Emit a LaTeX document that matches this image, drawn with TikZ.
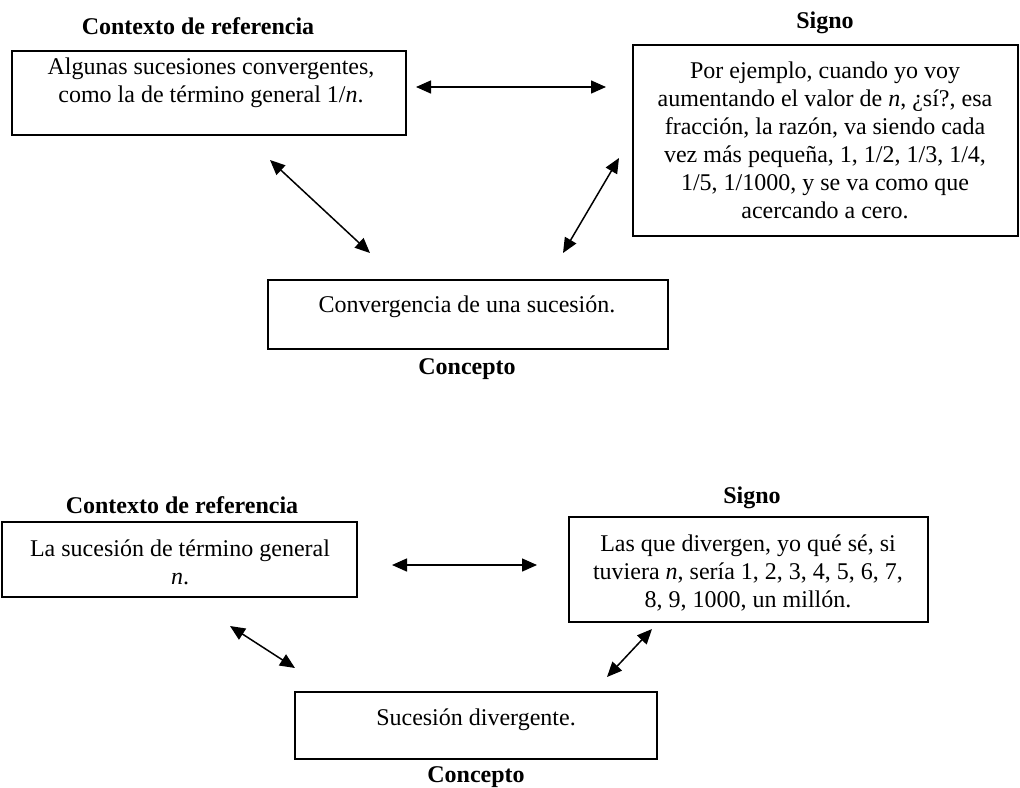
\documentclass[tikz,border=0pt]{standalone}
\usepackage{fontspec}
\setmainfont{Liberation Serif}
\usetikzlibrary{arrows.meta}

\begin{document}
\begin{tikzpicture}[x=0.5pt,y=-0.5pt,
  font=\fontsize{12}{14}\selectfont,
  box/.style={draw, line width=0.75pt, inner sep=0pt},
  txt/.style={align=center, inner sep=0pt},
  title/.style={font=\fontsize{12}{14}\selectfont\bfseries, inner sep=0pt},
  link/.style={line width=0.75pt, {Triangle[length=7.5pt,width=6.5pt]}-{Triangle[length=7.5pt,width=6.5pt]}}]
\useasboundingbox (0,0) rectangle (1020,787);
% convergencia
\node[title] (ctxAtitle) at (198,26) {Contexto de referencia};
\node[box, minimum width=197pt, minimum height=42pt] (ctxA) at (209,93) {};
\node[txt] (ctxAtext) at (211,83) {Algunas sucesiones convergentes,\\como la de término general 1/\textit{n}.};
\node[title] (sigAtitle) at (825,23) {Signo};
\node[box, minimum width=192.5pt, minimum height=95.5pt] (sigA) at (825.5,140.5) {};
\node[txt] (sigAtext) at (825,140) {Por ejemplo, cuando yo voy\\aumentando el valor de \textit{n}, ¿sí?, esa\\fracción, la razón, va siendo cada\\vez más pequeña, 1, 1/2, 1/3, 1/4,\\1/5, 1/1000, y se va como que\\acercando a cero.};
\node[box, minimum width=200pt, minimum height=34.5pt] (conA) at (468,314.5) {};
\node[txt] (conAtext) at (467,307) {Convergencia de una sucesión.};
\node[title] (conAtitle) at (467,369) {Concepto};
\coordinate (a1) at (416,87);
\coordinate (a2) at (606,87);
\coordinate (a3) at (270,160);
\coordinate (a4) at (370,253);
\coordinate (a5) at (619,158);
\coordinate (a6) at (563,253);
\draw[link] (a1) -- (a2);
\draw[link] (a3) -- (a4);
\draw[link] (a5) -- (a6);
% divergencia
\node[title] (ctxBtitle) at (182,505) {Contexto de referencia};
\node[box, minimum width=177.5pt, minimum height=37.5pt] (ctxB) at (179.5,559.5) {};
\node[txt] (ctxBtext) at (180,562) {La sucesión de término general\\\textit{n}.};
\node[title] (sigBtitle) at (752,498) {Signo};
\node[box, minimum width=179.5pt, minimum height=52.5pt] (sigB) at (748.5,569.5) {};
\node[txt] (sigBtext) at (748,573) {Las que divergen, yo qué sé, si\\tuviera \textit{n}, sería 1, 2, 3, 4, 5, 6, 7,\\8, 9, 1000, un millón.};
\node[box, minimum width=181pt, minimum height=33.5pt] (conB) at (476,725.5) {};
\node[txt] (conBtext) at (476,720) {Sucesión divergente.};
\node[title] (conBtitle) at (476,777) {Concepto};
\coordinate (b1) at (392,565);
\coordinate (b2) at (537,565);
\coordinate (b3) at (230,626);
\coordinate (b4) at (295,668);
\coordinate (b5) at (652,629);
\coordinate (b6) at (607,677);
\draw[link] (b1) -- (b2);
\draw[link] (b3) -- (b4);
\draw[link] (b5) -- (b6);
\end{tikzpicture}
\end{document}
